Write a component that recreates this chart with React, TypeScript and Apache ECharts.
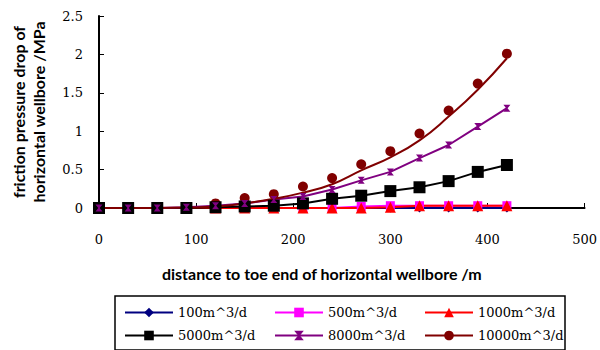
import React, { useEffect, useRef } from "react";
import * as echarts from "echarts";

const distances = [0, 30, 60, 90, 120, 150, 180, 210, 240, 270, 300, 330, 360, 390, 420];
const q100 = [0, 0, 0, 0, 0, 0, 0, 0, 0, 0, 0, 0, 0, 0, 0];
const q500 = [0, 0, 0, 0, 0, 0, 0, 0, 0, 0.02, 0.03, 0.03, 0.03, 0.03, 0.03];
const q1000 = [0, 0, 0, 0, 0, 0, 0, 0, 0, 0, 0.01, 0.03, 0.03, 0.03, 0.03];
const q5000 = [0, 0, 0, 0, 0.01, 0.02, 0.03, 0.06, 0.12, 0.16, 0.22, 0.27, 0.35, 0.47, 0.56];
const q8000 = [0, 0, 0, 0.01, 0.03, 0.06, 0.11, 0.15, 0.24, 0.36, 0.47, 0.65, 0.82, 1.06, 1.3];
const q10000 = [0.01, 0.01, 0.01, 0.01, 0.06, 0.13, 0.18, 0.28, 0.39, 0.57, 0.74, 0.97, 1.27, 1.62, 2.01];
const trend10000 = [0, 0, 0, 0.005, 0.02, 0.06, 0.12, 0.2, 0.31, 0.49, 0.66, 0.88, 1.19, 1.54, 1.95];

const seriesNames = ["100m^3/d", "500m^3/d", "1000m^3/d", "5000m^3/d", "8000m^3/d", "10000m^3/d"];
const xTitle = "distance to toe end of horizontal wellbore /m";
const yTitle = "friction pressure drop of\nhorizontal wellbore /MPa";

const pairs = (ys: number[]) => distances.map((x, i) => [x, ys[i]]);

export default function App() {
  const ref = useRef<HTMLDivElement>(null);
  useEffect(() => {
    if (!ref.current) return;
    const chart = echarts.init(ref.current, null, { renderer: "svg" });
    const tickFont = { fontFamily: "DejaVu Serif", fontSize: 13, color: "#000" };
    const mk = (name: string, ys: number[], color: string, symbol: string, size: number, extra: any = {}) => ({
      name,
      type: "line",
      data: pairs(ys),
      symbol,
      symbolSize: size,
      showSymbol: true,
      lineStyle: { color, width: 2 },
      itemStyle: { color },
      ...extra,
    });
    chart.setOption({
      animation: false,
      backgroundColor: "#fff",
      grid: { left: 91, right: 12, top: 16, bottom: 142 },
      xAxis: {
        type: "value",
        min: 0,
        max: 500,
        interval: 100,
        name: xTitle,
        nameLocation: "middle",
        nameGap: 57,
        nameTextStyle: { fontFamily: "Lato", fontWeight: "bold", fontSize: 16, color: "#000", padding: [0, 40, 0, 0] },
        axisLine: { show: true, lineStyle: { color: "#000", width: 2 } },
        axisTick: { show: true, inside: true, length: 5, lineStyle: { color: "#000", width: 1 } },
        axisLabel: { ...tickFont, margin: 25 },
        splitLine: { show: false },
      },
      yAxis: {
        type: "value",
        min: 0,
        max: 2.5,
        interval: 0.5,
        name: yTitle,
        nameLocation: "middle",
        nameGap: 51,
        nameRotate: 90,
        nameTextStyle: { fontFamily: "Lato", fontWeight: "bold", fontSize: 16, color: "#000", lineHeight: 20 },
        axisLine: { show: true, lineStyle: { color: "#000", width: 2 } },
        axisTick: { show: true, inside: true, length: 5, lineStyle: { color: "#000", width: 1 } },
        axisLabel: { ...tickFont, margin: 16 },
        splitLine: { show: false },
      },
      legend: {
        data: seriesNames,
        left: 115,
        top: 296,
        width: 440,
        orient: "horizontal",
        padding: [10, 1, 8, 9],
        itemGap: 10,
        itemWidth: 48,
        itemHeight: 12,
        borderColor: "#000",
        borderWidth: 1.5,
        textStyle: { fontFamily: "DejaVu Serif", fontSize: 13, color: "#000", width: 86, lineHeight: 12 },
      },
      series: [
        mk(seriesNames[0], q100, "#000080", "diamond", 9),
        mk(seriesNames[1], q500, "#FF00FF", "rect", 9),
        mk(seriesNames[2], q1000, "#FF0000", "triangle", 11),
        mk(seriesNames[3], q5000, "#000000", "rect", 12),
        mk(seriesNames[4], q8000, "#800080", "path://M0,0L10,0L6,5L10,10L0,10L4,5Z", 7),
        mk(seriesNames[5], trend10000, "#800000", "circle", 9, { showSymbol: false, smooth: true }),
        {
          name: "10000 points",
          type: "scatter",
          data: pairs(q10000),
          symbol: "circle",
          symbolSize: 10,
          itemStyle: { color: "#800000", opacity: 1 },
        },
      ],
    });
    return () => chart.dispose();
  }, []);
  return <div ref={ref} style={{ position: "absolute", left: 0, top: 0, width: 600, height: 350 }} />;
}
